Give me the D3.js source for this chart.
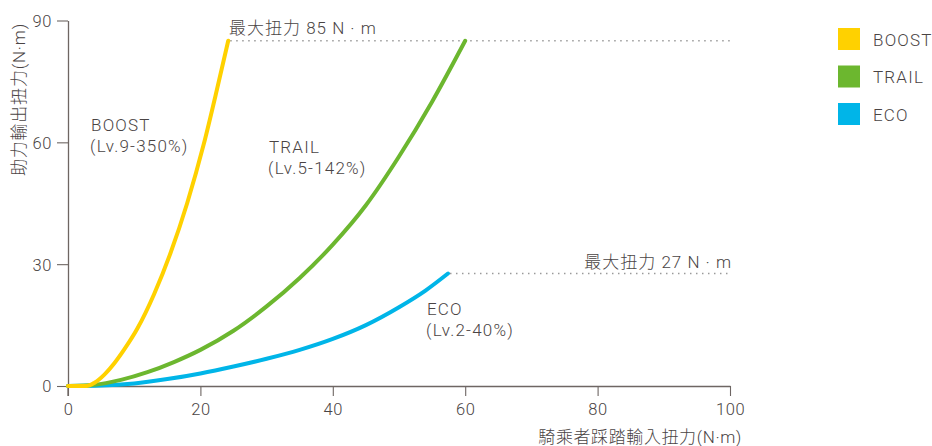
<!DOCTYPE html>
<html><head><meta charset="utf-8">
<script src="https://cdn.jsdelivr.net/npm/d3@7"></script>
<style>
body{margin:0;background:#fff;}
text{font-family:Roboto,"Noto Sans CJK TC","Noto Sans",sans-serif;fill:#4a4444;font-weight:300;}
</style></head><body>
<svg id="c" width="932" height="446"></svg>
<script>
const seriesNames = ["BOOST","TRAIL","ECO"];
const seriesColors = ["#FFD100","#6CB72F","#00B5E8"];
const boostX = [0, 2.8, 4, 5.5, 7, 8.5, 10.5, 13, 15.5, 18, 20.5, 22.5, 24.2];
const boostY = [0, 0, 0.8, 2.8, 5.6, 9.0, 14.2, 22.6, 32.8, 45, 59.5, 73, 85];
const trailX = [0, 4, 8, 12, 16, 20, 25, 30, 35, 40, 45, 50, 55, 60];
const trailY = [0, 0.3, 1.5, 3.4, 5.9, 8.9, 13.6, 19.6, 26.6, 34.8, 44.5, 56.5, 70, 85];
const ecoX = [0, 5, 10, 15, 20, 25, 30, 35, 40, 45, 50, 54, 57.4];
const ecoY = [0, 0.1, 0.6, 1.7, 3.1, 4.8, 6.7, 8.9, 11.6, 15.0, 19.4, 23.5, 27.7];
const xTicks = [0,20,40,60,80,100];
const yTicks = [0,30,60,90];
const maxLabels = ["最大扭力 85 N · m","最大扭力 27 N · m"];
const maxValues = [85, 27.7];
const modeLabels = [["BOOST","(Lv.9-350%)"],["TRAIL","(Lv.5-142%)"],["ECO","(Lv.2-40%)"]];
const xTitle = "騎乘者踩踏輸入扭力(N·m)";
const yTitle = "助力輸出扭力(N·m)";

const svg = d3.select("#c");
const x = d3.scaleLinear().domain([0,100]).range([68,730]);
const y = d3.scaleLinear().domain([0,90]).range([386,20.5]);
const axisColor = "#6e6663";

// dotted max lines
const ends = [[boostX[boostX.length-1], maxValues[0]],[ecoX[ecoX.length-1], maxValues[1]]];
ends.forEach(e=>{
  svg.append("line").attr("x1",x(e[0])+2).attr("x2",x(100)).attr("y1",y(e[1])).attr("y2",y(e[1]))
    .attr("stroke","#9a9a9a").attr("stroke-width",1.5).attr("stroke-dasharray","1.5,4.5");
});

// axes
const xAxis = svg.append("g").attr("transform",`translate(0,${y(0)})`)
  .call(d3.axisBottom(x).tickValues(xTicks).tickSize(10).tickPadding(5).tickSizeOuter(0));
const yAxis = svg.append("g").attr("transform",`translate(${x(0)},0)`)
  .call(d3.axisLeft(y).tickValues(yTicks).tickSize(11).tickPadding(5).tickSizeOuter(0));
[xAxis,yAxis].forEach(g=>{
  g.select(".domain").attr("stroke",axisColor).attr("stroke-width",1.3);
  g.selectAll(".tick line").attr("stroke",axisColor).attr("stroke-width",1.1);
  g.selectAll(".tick text").attr("font-size",16.5).attr("fill","#4a4444")
   .attr("font-family","Roboto,sans-serif").attr("font-weight",300).attr("letter-spacing",0.6);
});
yAxis.selectAll(".tick text").attr("dy","0.36em");
xAxis.selectAll(".tick text").attr("dy","0.85em");
svg.append("line").attr("x1",x(0)).attr("x2",x(0)).attr("y1",y(0)).attr("y2",y(0)+10)
  .attr("stroke",axisColor).attr("stroke-width",1.3);

// curves
const line = d3.line().x(d=>x(d[0])).y(d=>y(d[1])).curve(d3.curveMonotoneX);
const data = [d3.zip(boostX,boostY), d3.zip(trailX,trailY), d3.zip(ecoX,ecoY)];
[2,1,0].forEach(i=>{
  svg.append("path").attr("d",line(data[i])).attr("fill","none")
    .attr("stroke",seriesColors[i]).attr("stroke-width",4).attr("stroke-linecap","round");
});

const ls = 1;
// max labels
svg.append("text").attr("x",229).attr("y",34).attr("font-size",17).attr("letter-spacing",ls).text(maxLabels[0]);
svg.append("text").attr("x",732).attr("y",268).attr("text-anchor","end").attr("font-size",17).attr("letter-spacing",ls).text(maxLabels[1]);

// mode labels
const modePos = [[91,131],[269,153],[427,315]];
modeLabels.forEach((l,i)=>{
  const t = svg.append("text").attr("x",modePos[i][0]).attr("y",modePos[i][1]).attr("font-size",17).attr("letter-spacing",1.2);
  t.append("tspan").attr("x",modePos[i][0]).text(l[0]);
  t.append("tspan").attr("x",modePos[i][0]-1).attr("dy",21).text(l[1]);
});

// axis titles
svg.append("text").attr("x",742).attr("y",443).attr("text-anchor","end").attr("font-size",17).attr("letter-spacing",0.6).text(xTitle);
svg.append("text").attr("transform","translate(25,23) rotate(-90)").attr("text-anchor","end")
  .attr("font-size",17).attr("letter-spacing",0.8).text(yTitle);

// legend
seriesNames.forEach((n,i)=>{
  const yy = 28 + i*37.5;
  svg.append("rect").attr("x",838).attr("y",yy).attr("width",22).attr("height",22).attr("fill",seriesColors[i]);
  svg.append("text").attr("x",873).attr("y",yy+17.5).attr("font-size",17).attr("letter-spacing",1.2).text(n);
});
</script></body></html>
